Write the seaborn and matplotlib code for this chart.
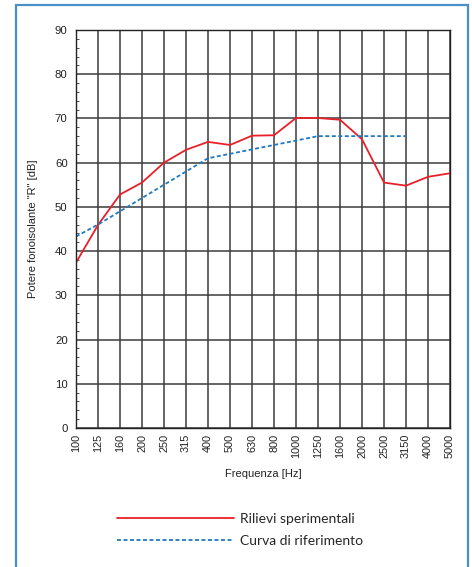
import pandas as pd
import matplotlib.pyplot as plt
import seaborn as sns
from matplotlib.patches import Rectangle
from matplotlib.ticker import MultipleLocator

# third-octave bands and the two curves
freqs = ["100", "125", "160", "200", "250", "315", "400", "500", "630",
         "800", "1000", "1250", "1600", "2000", "2500", "3150", "4000", "5000"]
measured = [37.4, 45.9, 52.8, 55.5, 60.0, 62.9, 64.7, 64.0, 66.1,
            66.2, 70.1, 70.1, 69.7, 65.3, 55.5, 54.8, 56.8, 57.6]
reference = [43.3, 46, 49, 52, 55, 58, 61, 62, 63,
             64, 65, 66, 66, 66, 66, 66]

df_meas = pd.DataFrame({"freq": freqs, "R": measured})
df_ref = pd.DataFrame({"freq": freqs[:len(reference)], "R": reference})

sns.set_style("white")
plt.rcParams["font.family"] = ["Liberation Sans", "DejaVu Sans"]

fig = plt.figure(figsize=(4.72, 5.67), dpi=100)
ax = fig.add_axes([76 / 472, 1 - 428 / 567, 374 / 472, 398 / 567])

sns.lineplot(data=df_meas, x="freq", y="R", ax=ax, color="#e8202a",
             linewidth=1.3, label="Rilievi sperimentali", sort=False)
sns.lineplot(data=df_ref, x="freq", y="R", ax=ax, color="#1f7ac2",
             linewidth=1.3, linestyle=(0, (2.2, 1.4)),
             label="Curva di riferimento", sort=False)

ax.set_xlim(0, len(freqs) - 1)
ax.set_ylim(0, 90)
ax.set_xticks(range(len(freqs)))
ax.set_xticklabels(freqs, rotation=90, fontsize=7.8, color="#222222")
ax.yaxis.set_major_locator(MultipleLocator(10))
ax.yaxis.set_minor_locator(MultipleLocator(2))
ax.tick_params(axis="y", which="major", labelsize=8.2, length=0, pad=6,
               labelcolor="#222222")
ax.tick_params(axis="y", which="minor", direction="in", length=2.5,
               width=0.6, color="#333333", left=True)
ax.tick_params(axis="x", length=0, pad=4)
ax.grid(True, which="major", color="#3c3c3c", linewidth=1.1)
ax.set_axisbelow(True)
for s in ax.spines.values():
    s.set_visible(True)
    s.set_color("#222222")
    s.set_linewidth(1.0)

ax.set_xlabel("Frequenza [Hz]", fontsize=8, labelpad=8, color="#222222")
ax.set_ylabel('Potere fonoisolante "R" [dB]', fontsize=8, labelpad=12,
              color="#222222")

handles, labels = ax.get_legend_handles_labels()
ax.get_legend().remove()
fig.legend(handles, labels, loc="center", bbox_to_anchor=(240 / 472, 1 - 530 / 567),
           frameon=False, handlelength=8.4, handletextpad=0.4,
           labelspacing=0.75, prop={"family": "Lato", "size": 10})

# blue frame around the whole figure (bottom edge runs off the image)
fig.patches.append(Rectangle((16 / 472, -0.05), 452 / 472, 1 - 5 / 567 + 0.05,
                             transform=fig.transFigure, fill=False,
                             edgecolor="#4a90c8", linewidth=1.6))

fig.savefig("out.png", dpi=100)
plt.close(fig)
